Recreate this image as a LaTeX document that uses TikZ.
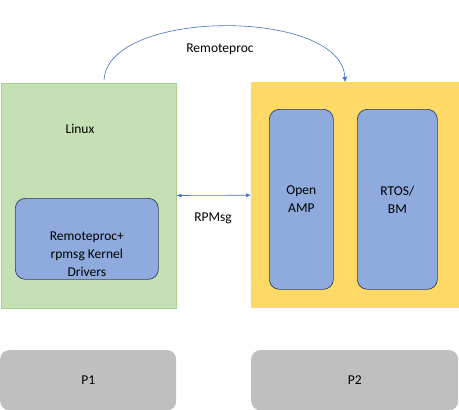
\documentclass[tikz,border=0pt]{standalone}
\usepackage{fontspec}
\setmainfont{Carlito}
\usetikzlibrary{positioning}
\usetikzlibrary{arrows.meta}

\definecolor{hostgreen}{HTML}{C5E0B4}
\definecolor{hostedge}{HTML}{A9D18E}
\definecolor{remoteyellow}{HTML}{FFD966}
\definecolor{swblue}{HTML}{8FAADC}
\definecolor{swedge}{HTML}{2F3F5F}
\definecolor{chipgray}{HTML}{BFBFBF}
\definecolor{linkblue}{HTML}{4472C4}

\begin{document}
\begin{tikzpicture}[x=1pt, y=-1pt,
	font=\fontsize{13.5}{18}\selectfont,
	cpu/.style={rectangle, anchor=north west, inner sep=0pt},
	sw/.style={rectangle, rounded corners=10pt, draw=swedge, line width=0.7pt, fill=swblue, anchor=north west, inner sep=0pt},
	chip/.style={rectangle, rounded corners=9pt, fill=chipgray, anchor=north west, inner sep=0pt},
	link/.style={draw=linkblue, line width=0.6pt}]
	\useasboundingbox (0,0) rectangle (459,410);

	\node [cpu, fill=hostgreen, draw=hostedge, line width=1pt, minimum width=175pt, minimum height=225pt] (linux) at (0.5,82.5) {};
	\node [cpu, fill=remoteyellow, minimum width=208pt, minimum height=226pt] (remote) at (251,82) {};

	\node (linuxtxt) at (80,129) {Linux};

	\node [sw, minimum width=143pt, minimum height=81pt] (drv) at (15,198) {};
	\node [align=center] (drvtxt) at ([yshift=-15pt]drv.center) {Remoteproc+\\rpmsg Kernel\\Drivers};

	\node [sw, minimum width=64pt, minimum height=180pt, align=center] (amp) at (269,109) {Open\\AMP};
	\node [sw, minimum width=80pt, minimum height=180pt, align=center] (rtos) at (357,109) {RTOS/\\BM};

	\draw[link, {Latex[length=5pt,width=4pt]}-{Latex[length=5pt,width=4pt]}] (linux.east) -- (remote.west);
	\node (rpmsg) at (213,218) {RPMsg};

	\coordinate (rpstart) at (104,80);
	\coordinate (rpend) at (345,82);
	\draw[link, -{Latex[length=5pt,width=5pt]}] (rpstart) .. controls (108,8) and (342,8) .. (rpend);
	\node (rproc) at (220,49) {Remoteproc};

	\node [chip, minimum width=176pt, minimum height=60pt] (p1) at (0,350) {P1};
	\node [chip, minimum width=207pt, minimum height=60pt] (p2) at (251,350) {P2};
\end{tikzpicture}
\end{document}
